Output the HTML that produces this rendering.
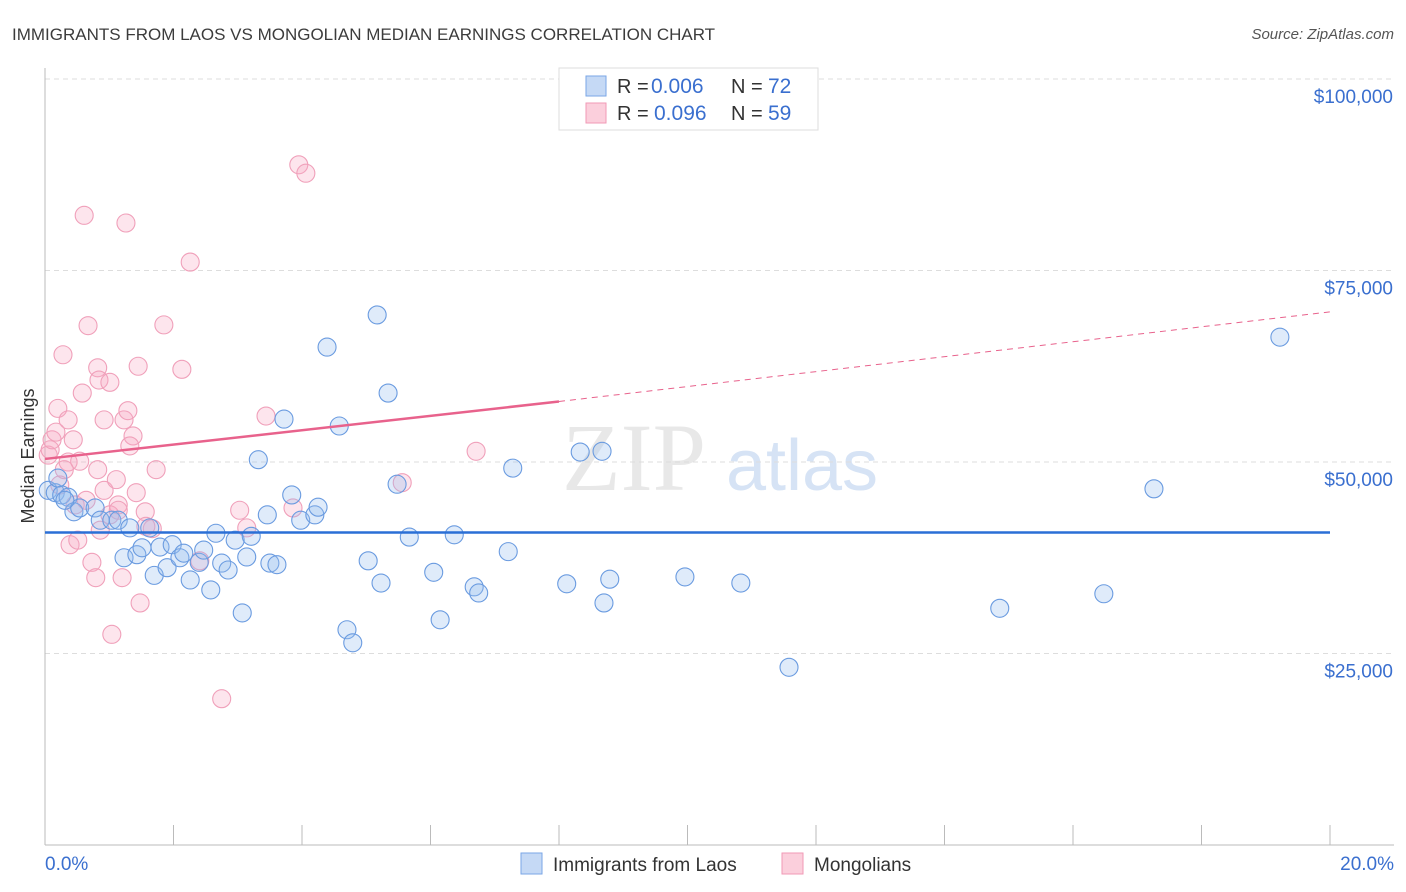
<!DOCTYPE html>
<html><head><meta charset="utf-8"><style>
body{margin:0;background:#fff;font-family:"Liberation Sans",sans-serif}
svg{display:block}
</style></head><body>
<svg id="c" width="1406" height="892">
<text x="12" y="40" font-size="17" fill="#3c3c3c">IMMIGRANTS FROM LAOS VS MONGOLIAN MEDIAN EARNINGS CORRELATION CHART</text>
<text x="1394" y="39" font-size="15" font-style="italic" fill="#555" text-anchor="end">Source: ZipAtlas.com</text>
<text x="34" y="456" font-size="18" fill="#333" transform="rotate(-90 34 456)" text-anchor="middle">Median Earnings</text>
<g><text x="634" y="490" font-size="96" font-family="Liberation Serif,serif" fill="#e8e8e8" text-anchor="middle">ZIP</text><text x="802" y="490" font-size="72" fill="#d6e3f5" text-anchor="middle">atlas</text></g>
<g id="grid"></g><g id="axes"></g><g id="pts"></g><g id="trend"></g>
<g>
<rect x="559" y="68" width="259" height="62" fill="#fff" stroke="#ddd"/>
<rect x="586" y="76" width="20" height="20" fill="#c5d9f5" stroke="#7aa6e6"/>
<rect x="586" y="103" width="20" height="20" fill="#fbcfdc" stroke="#f09ab6"/>
<text x="617" y="93" font-size="20" fill="#333">R =</text>
<text x="651" y="93" font-size="21" fill="#3a6fcf">0.006</text>
<text x="731" y="93" font-size="20" fill="#333">N =</text>
<text x="768" y="93" font-size="21" fill="#3a6fcf">72</text>
<text x="617" y="120" font-size="20" fill="#333">R =</text>
<text x="654" y="120" font-size="21" fill="#3a6fcf">0.096</text>
<text x="731" y="120" font-size="20" fill="#333">N =</text>
<text x="768" y="120" font-size="21" fill="#3a6fcf">59</text>
</g>
<g>
<rect x="521" y="853" width="21" height="21" fill="#c5d9f5" stroke="#7aa6e6"/>
<text x="553" y="871" font-size="19" fill="#333">Immigrants from Laos</text>
<rect x="782" y="853" width="21" height="21" fill="#fbcfdc" stroke="#f09ab6"/>
<text x="814" y="871" font-size="19" fill="#333">Mongolians</text>
</g>
</svg>
<script>
const yTicks=[25000,50000,75000,100000];
const yTickLabels=["$25,000","$50,000","$75,000","$100,000"];
const xLabels=["0.0%","20.0%"];
const laosX=[.05,.16,.26,.36,.45,.54,.78,.86,1.04,1.14,1.32,1.23,1.43,1.51,1.70,1.79,1.90,1.98,2.10,2.16,2.26,2.40,2.47,2.58,2.66,2.75,2.85,2.96,3.07,3.14,3.21,3.32,3.46,3.50,3.61,3.72,3.84,3.98,4.20,4.25,4.39,4.58,4.70,4.79,5.03,5.17,5.23,5.34,5.48,5.67,6.05,6.15,6.37,6.68,6.75,7.21,7.28,8.12,8.33,8.67,8.70,8.79,9.96,10.83,11.58,14.86,16.48,17.26,19.22,.20,1.63,.31];
const laosY=[46.3,46.0,45.7,45.4,43.5,44.0,44.0,42.4,42.4,42.4,41.4,37.5,37.9,38.8,35.2,38.9,36.2,39.2,37.5,38.1,34.6,36.9,38.5,33.3,40.7,36.8,35.9,39.8,30.3,37.6,40.3,50.3,43.1,36.8,36.6,55.6,45.7,42.4,43.1,44.1,65.0,54.7,28.1,26.4,37.1,69.2,34.2,59.0,47.1,40.2,35.6,29.4,40.5,33.7,32.9,38.3,49.2,34.1,51.3,51.4,31.6,34.7,35.0,34.2,23.2,30.9,32.8,46.5,66.3,47.9,41.4,45.0];
const monX=[.05,.08,.11,.17,.20,.28,.36,.39,.44,.47,.36,.51,.58,.61,.67,.73,.79,.82,.84,.92,.92,1.01,1.04,1.11,1.14,1.20,1.23,1.26,1.29,1.37,1.42,1.45,1.48,1.56,1.67,1.73,1.85,2.13,2.26,2.41,2.75,3.03,3.14,3.44,3.86,3.95,4.06,5.56,6.71,.54,.23,.30,.86,1.01,1.14,.82,1.57,1.32,.64];
const monY=[50.9,51.6,52.9,53.9,57.0,64.0,55.5,39.2,52.9,44.4,50.0,39.8,59.0,82.2,67.8,36.9,34.9,62.3,60.7,46.3,55.5,60.4,27.5,47.7,44.4,34.9,55.5,81.2,56.7,53.4,46.0,62.5,31.6,43.5,41.3,49.0,67.9,62.1,76.1,37.1,19.1,43.7,41.4,56.0,44.0,88.8,87.7,47.3,51.4,50.1,47.0,49.0,41.1,43.1,43.7,49.0,41.6,52.1,45.0];
const laosTrend=[40.8,40.8];
const monTrend=[50.4,57.9,69.6];
const trendX=[0,8,20];
const NS="http://www.w3.org/2000/svg";
const sx=v=>45+v/20*1285;
const sy=v=>845-v/100000*766;
function mk(tag,attrs,parent){const e=document.createElementNS(NS,tag);for(const k in attrs)e.setAttribute(k,attrs[k]);parent.appendChild(e);return e;}
const grid=document.getElementById('grid'),axes=document.getElementById('axes'),pts=document.getElementById('pts'),tr=document.getElementById('trend');
yTicks.forEach((t,i)=>{
 const l=mk('line',{x1:45,x2:1394,y1:sy(t),y2:sy(t),stroke:'#ddd','stroke-dasharray':'5,4'},grid);
 
 
 const tx=mk('text',{x:1393,y:sy(t)+24,'font-size':19,fill:'#3a6fcf','text-anchor':'end'},grid);
 tx.textContent=yTickLabels[i];
 
 
});
mk('line',{x1:45,x2:45,y1:68,y2:845,stroke:'#bbb'},axes);
mk('line',{x1:45,x2:1394,y1:845,y2:845,stroke:'#bbb'},axes);
for(let i=0;i<=10;i++){mk('line',{x1:sx(i*2),x2:sx(i*2),y1:825,y2:845,stroke:'#bbb'},axes);}
const xl0=mk('text',{x:45,y:870,'font-size':19,fill:'#3a6fcf'},axes);xl0.textContent=xLabels[0];


const xl1=mk('text',{x:1394,y:870,'font-size':19,fill:'#3a6fcf','text-anchor':'end'},axes);xl1.textContent=xLabels[1];


monX.forEach((v,i)=>{const c=mk('circle',{cx:sx(v),cy:sy(monY[i]*1000),r:9,fill:'rgba(248,170,195,0.3)',stroke:'#f0a0ba','stroke-width':1.1},pts);
 
 });
laosX.forEach((v,i)=>{const c=mk('circle',{cx:sx(v),cy:sy(laosY[i]*1000),r:9,fill:'rgba(150,190,240,0.3)',stroke:'#6a9be0','stroke-width':1.1},pts);
 
 });
const bl=mk('line',{x1:sx(trendX[0]),x2:sx(trendX[2]),y1:sy(laosTrend[0]*1000),y2:sy(laosTrend[1]*1000),stroke:'#2a6fd6','stroke-width':2.5},tr);


const pl=mk('line',{x1:sx(trendX[0]),x2:sx(trendX[1]),y1:sy(monTrend[0]*1000),y2:sy(monTrend[1]*1000),stroke:'#e8628c','stroke-width':2.5},tr);


const pd=mk('line',{x1:sx(trendX[1]),x2:sx(trendX[2]),y1:sy(monTrend[1]*1000),y2:sy(monTrend[2]*1000),stroke:'#e8628c','stroke-width':1,'stroke-dasharray':'6,5'},tr);


</script>
</body></html>
